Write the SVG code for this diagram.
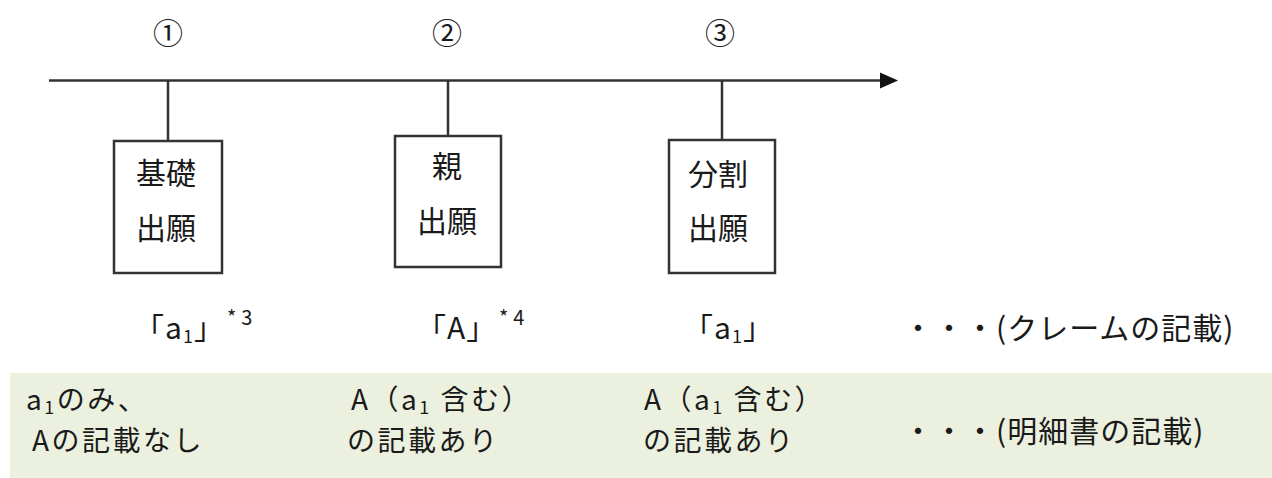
<svg xmlns="http://www.w3.org/2000/svg" width="1272" height="478" viewBox="0 0 1272 478">
  <style>
    text { font-family: "Noto Sans CJK JP", "Noto Sans", sans-serif; fill: #1a1a1a; }
    .num { font-size: 30px; text-anchor: middle; }
    .box { fill: #ffffff; stroke: #333333; stroke-width: 2.5; }
    .lbl { font-size: 30px; text-anchor: middle; }
    .t { font-size: 30px; letter-spacing: 1px; }
    .s { font-size: 28px; letter-spacing: 2.5px; }
    .sup { font-size: 20px; }
    .line { stroke: #333333; stroke-width: 2.5; fill: none; }
    .sub { font-size: 18px; }
  </style>

  <rect x="10" y="373" width="1262" height="105" fill="#ebf1de"/>

  <g id="connectors">
    <line class="line" x1="49" y1="80.5" x2="880" y2="80.5"/>
    <path d="M880,72.5 L898,80.5 L880,88.5 Z" fill="#111111"/>
    <line class="line" x1="168" y1="80.5" x2="168" y2="141"/>
    <line class="line" x1="448" y1="80.5" x2="448" y2="136"/>
    <line class="line" x1="722" y1="80.5" x2="722" y2="140"/>
  </g>

  <g id="num1"><text class="num" x="168" y="44">①</text></g>
  <g id="num2"><text class="num" x="447" y="44">②</text></g>
  <g id="num3"><text class="num" x="720" y="44">③</text></g>

  <g id="node1">
    <rect class="box" x="114" y="141" width="108" height="132"/>
    <text class="lbl" x="166" y="184">基礎</text>
    <text class="lbl" x="166" y="239">出願</text>
  </g>
  <g id="node2">
    <rect class="box" x="395" y="136" width="106" height="131"/>
    <text class="lbl" x="447" y="177">親</text>
    <text class="lbl" x="447" y="232">出願</text>
  </g>
  <g id="node3">
    <rect class="box" x="669" y="140" width="106" height="133"/>
    <text class="lbl" x="718" y="185">分割</text>
    <text class="lbl" x="718" y="239">出願</text>
  </g>

  <g id="claims">
    <text class="t" x="134" y="339">「a<tspan class="sub" dy="4">1</tspan><tspan dy="-4">」</tspan></text>
    <text class="sup" x="227" y="325">*<tspan dx="5">3</tspan></text>
    <text class="t" x="416" y="339">「A」</text>
    <text class="sup" x="499" y="325">*<tspan dx="5">4</tspan></text>
    <text class="t" x="683" y="339">「a<tspan class="sub" dy="4">1</tspan><tspan dy="-4">」</tspan></text>
    <text class="t" x="903" y="339">・・・(クレームの記載)</text>
  </g>

  <g id="spec">
    <text class="s" x="26" y="410">a<tspan class="sub" dy="4">1</tspan><tspan dy="-4">のみ、</tspan></text>
    <text class="s" x="32" y="451">Aの記載なし</text>
    <text class="s" x="351" y="410">A（a<tspan class="sub" dy="4">1</tspan><tspan dy="-4"> 含む）</tspan></text>
    <text class="s" x="347" y="451">の記載あり</text>
    <text class="s" x="644" y="410">A（a<tspan class="sub" dy="4">1</tspan><tspan dy="-4"> 含む）</tspan></text>
    <text class="s" x="643" y="451">の記載あり</text>
    <text class="t" x="903" y="442">・・・(明細書の記載)</text>
  </g>
</svg>
